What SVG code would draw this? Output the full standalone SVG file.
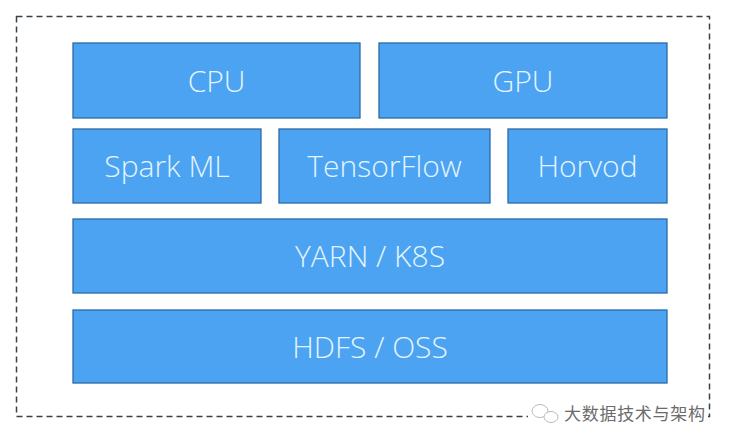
<svg xmlns="http://www.w3.org/2000/svg" width="730" height="448" viewBox="0 0 730 448">
<style>
.box{fill:#4ba3f2;stroke:#2a6aa8;stroke-width:1.3}
.lbl{font-family:"Open Sans","Segoe UI","Liberation Sans",sans-serif;font-weight:300;font-size:30px;fill:#e3f5ff;text-anchor:middle;dominant-baseline:central}
.wm{font-family:"Noto Sans CJK SC",sans-serif;font-size:17px;fill:#6b6b6b}
</style>
<rect x="0" y="0" width="730" height="448" fill="#ffffff"/>
<rect x="16.5" y="16.5" width="693" height="400" fill="none" stroke="#3a4048" stroke-width="1.5" stroke-dasharray="6,4"/>
<g id="cpu"><rect class="box" x="73" y="43" width="287" height="75"/><text class="lbl" x="216.5" y="80">CPU</text></g>
<g id="gpu"><rect class="box" x="379" y="43" width="288" height="75"/><text class="lbl" x="523" y="80">GPU</text></g>
<g id="sparkml"><rect class="box" x="73" y="129" width="188" height="74"/><text class="lbl" x="167" y="165.5">Spark ML</text></g>
<g id="tensorflow"><rect class="box" x="279" y="129" width="211" height="74"/><text class="lbl" x="384.5" y="165.5">TensorFlow</text></g>
<g id="horvod"><rect class="box" x="508" y="129" width="159" height="74"/><text class="lbl" x="587.5" y="165.5">Horvod</text></g>
<g id="yarn"><rect class="box" x="73" y="219" width="594" height="74"/><text class="lbl" x="370" y="255.5">YARN / K8S</text></g>
<g id="hdfs"><rect class="box" x="73" y="310" width="594" height="73"/><text class="lbl" x="370" y="346">HDFS / OSS</text></g>
<g id="connectors"></g>
<g id="watermark">
<rect x="528" y="402" width="180" height="24" fill="#ffffff"/>
<ellipse cx="540" cy="411" rx="8" ry="6.5" fill="none" stroke="#bbbbbb" stroke-width="1"/>
<ellipse cx="551" cy="417" rx="7" ry="5.5" fill="#ffffff" stroke="#bbbbbb" stroke-width="1"/>
<text class="wm" x="564" y="420" textLength="141">大数据技术与架构</text>
</g>
</svg>
